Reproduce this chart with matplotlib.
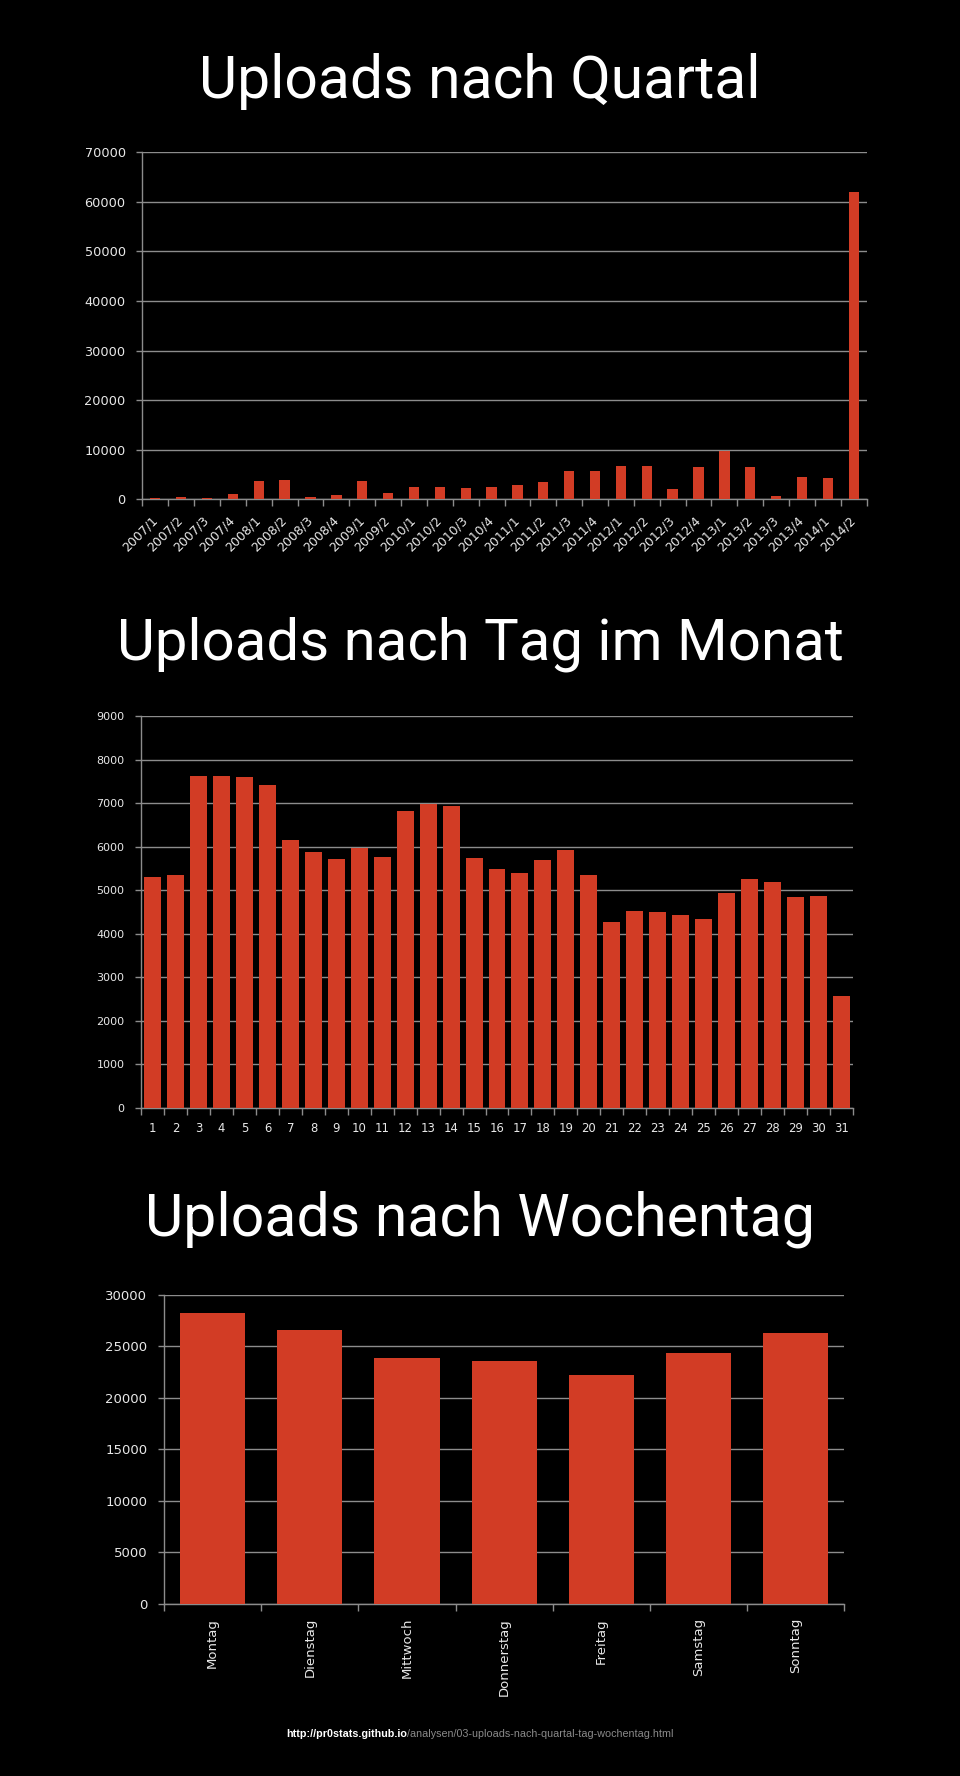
import matplotlib
matplotlib.use('Agg')
import matplotlib.pyplot as plt
import numpy as np
from matplotlib.ticker import FormatStrFormatter

# ---------------- data ----------------
quarters = ['2007/1', '2007/2', '2007/3', '2007/4', '2008/1', '2008/2', '2008/3', '2008/4',
            '2009/1', '2009/2', '2010/1', '2010/2', '2010/3', '2010/4', '2011/1', '2011/2',
            '2011/3', '2011/4', '2012/1', '2012/2', '2012/3', '2012/4', '2013/1', '2013/2',
            '2013/3', '2013/4', '2014/1', '2014/2']
quarter_uploads = [300, 500, 300, 1100, 3700, 3900, 500, 900,
                   3700, 1300, 2500, 2500, 2300, 2500, 2900, 3500,
                   5700, 5700, 6700, 6700, 2100, 6500, 9750, 6500,
                   670, 4500, 4300, 62000]

days = [str(i) for i in range(1, 32)]
day_uploads = [5300, 5350, 7620, 7620, 7600, 7415, 6150, 5875, 5715, 5975, 5760,
               6817, 6985, 6932, 5740, 5485, 5395, 5690, 5920, 5350, 4270,
               4520, 4500, 4430, 4340, 4935, 5255, 5190, 4845, 4865, 2570]

weekdays = ['Montag', 'Dienstag', 'Mittwoch', 'Donnerstag', 'Freitag', 'Samstag', 'Sonntag']
weekday_uploads = [28200, 26600, 23850, 23560, 22200, 24340, 26280]

titles = ['Uploads nach Quartal', 'Uploads nach Tag im Monat', 'Uploads nach Wochentag']
footer_bold = 'http://pr0stats.github.io'
footer_rest = '/analysen/03-uploads-nach-quartal-tag-wochentag.html'

# ---------------- style ----------------
W, H = 960, 1776
BAR = '#D23C25'
GRID = '#8C8C8C'
TXT = '#E8E8E8'
TITLE_FONT = ['Roboto', 'DejaVu Sans']

fig = plt.figure(figsize=(W / 100, H / 100), dpi=100, facecolor='black')
renderer = fig.canvas.get_renderer()


def add_ax(l, t, r, b):
    return fig.add_axes([l / W, 1 - b / H, (r - l) / W, (b - t) / H])


def style(ax, n, ymax, ystep, yfs, xfs):
    ax.set_facecolor('black')
    for s in ['top', 'right']:
        ax.spines[s].set_visible(False)
    for s in ['left', 'bottom']:
        ax.spines[s].set_color(GRID)
        ax.spines[s].set_linewidth(1.0)
    ax.set_ylim(0, ymax)
    ax.set_yticks(np.arange(0, ymax + 1, ystep))
    ax.yaxis.set_major_formatter(FormatStrFormatter('%d'))
    ax.yaxis.grid(True, color=GRID, lw=1.0)
    ax.set_axisbelow(True)
    ax.tick_params(axis='y', colors=GRID, labelcolor=TXT, length=4, width=1,
                   pad=8, labelsize=yfs)
    ax.set_xlim(-0.5, n - 0.5)
    ax.set_xticks(np.arange(n))
    ax.set_xticks(np.arange(-0.5, n), minor=True)
    ax.tick_params(axis='x', which='major', length=0, labelcolor=TXT, labelsize=xfs)
    ax.tick_params(axis='x', which='minor', length=5, width=1, color=GRID)


def fit_text(x, y, s, target_w, family, color='white', weight='normal', **kw):
    t = fig.text(x / W, 1 - y / H, s, fontsize=40, family=family, color=color,
                 weight=weight, **kw)
    w = t.get_window_extent(renderer).width
    t.set_fontsize(40 * target_w / w)
    return t


# ---------------- chart 1 ----------------
ax1 = add_ax(142.3, 152.3, 866.7, 499.3)
style(ax1, len(quarters), 70000, 10000, 9.3, 9)
ax1.bar(np.arange(len(quarters)), quarter_uploads, width=0.4, color=BAR, zorder=3)
ax1.set_xticklabels(quarters, rotation=45, ha='right', va='center',
                    rotation_mode='anchor')
ax1.tick_params(axis='x', which='major', pad=14)

# ---------------- chart 2 ----------------
ax2 = add_ax(141.3, 716, 852.7, 1108)
style(ax2, len(days), 9000, 1000, 8.0, 8.4)
ax2.bar(np.arange(len(days)), day_uploads, width=0.74, color=BAR, zorder=3)
ax2.set_xticklabels(days)
ax2.tick_params(axis='x', which='major', pad=10)

# ---------------- chart 3 ----------------
ax3 = add_ax(164, 1294.7, 844.3, 1604)
style(ax3, len(weekdays), 30000, 5000, 9.5, 9.5)
ax3.bar(np.arange(len(weekdays)), weekday_uploads, width=0.67, color=BAR, zorder=3)
ax3.set_xticklabels(weekdays, rotation=90, ha='center', va='top')
ax3.tick_params(axis='x', which='major', pad=10)

# ---------------- titles ----------------
fit_text(480, 98, titles[0], 562, TITLE_FONT, ha='center', va='baseline')
fit_text(480, 659, titles[1], 726, TITLE_FONT, ha='center', va='baseline')
fit_text(480, 1235, titles[2], 670, TITLE_FONT, ha='center', va='baseline')

# ---------------- footer ----------------
fb = fig.text(286 / W, 1 - 1737 / H, footer_bold, fontsize=8, family='Liberation Sans',
              weight='bold', color='white', ha='left', va='baseline')
fr = fig.text(0, 1 - 1737 / H, footer_rest, fontsize=8, family='Liberation Sans',
              color='#8A8A8A', ha='left', va='baseline')
wb = fb.get_window_extent(renderer).width
wr = fr.get_window_extent(renderer).width
scale = 387 / (wb + wr)
fb.set_fontsize(8 * scale)
fr.set_fontsize(8 * scale)
wb = fb.get_window_extent(renderer).width
fr.set_x((286 + wb) / W)

fig.savefig('out.png', dpi=100, facecolor='black')
